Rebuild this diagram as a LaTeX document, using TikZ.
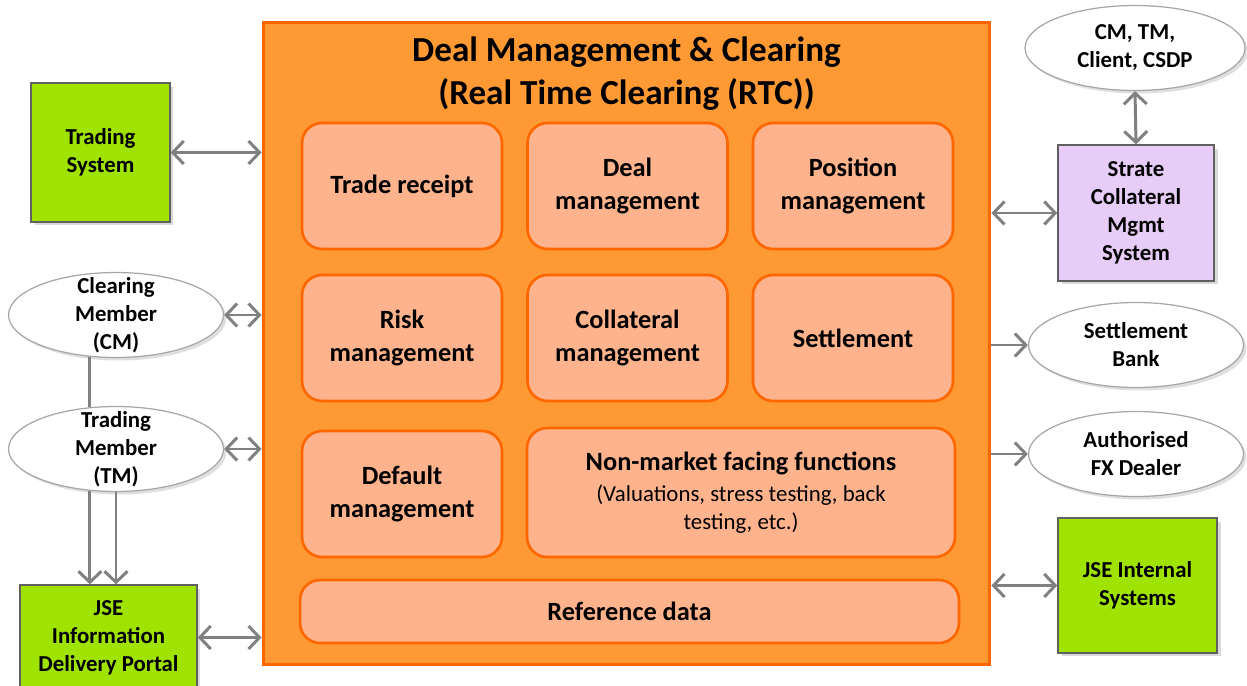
\documentclass[tikz,border=0pt]{standalone}
\usepackage{fontspec}
\setmainfont{Carlito}
\usepackage{xcolor}
\usepackage{tikz}
\usetikzlibrary{shapes.geometric,arrows.meta,shadows,positioning}
\definecolor{rtcfill}{RGB}{255,153,51}
\definecolor{rtcline}{RGB}{255,102,0}
\definecolor{funcfill}{RGB}{255,179,140}
\definecolor{jsegreen}{RGB}{160,226,0}
\definecolor{lilac}{RGB}{230,204,246}
\definecolor{linkgray}{RGB}{128,128,128}
\newcommand{\finetext}{\mdseries\fontsize{13}{16}\selectfont}

\begin{document}
\begin{tikzpicture}[x=0.02cm,y=-0.02cm,font=\bfseries\fontsize{13}{16}\selectfont,
	rtcbox/.style={rectangle,draw=rtcline,fill=rtcfill,line width=1.7pt},
	funcbox/.style={rectangle,rounded corners=0.4cm,draw=rtcline,fill=funcfill,line width=1.5pt,align=center,minimum width=4cm,minimum height=2.52cm,font=\bfseries\fontsize{15}{18.8}\selectfont},
	greenbox/.style={rectangle,draw=gray!75!black,fill=jsegreen,line width=0.8pt,align=center,inner sep=0pt,drop shadow={opacity=0.3,shadow xshift=0.7mm,shadow yshift=-0.7mm}},
	lilacbox/.style={greenbox,fill=lilac},
	party/.style={ellipse,draw=gray!70,fill=white,line width=0.7pt,inner sep=0pt,minimum width=4.3cm,minimum height=1.7cm,drop shadow={opacity=0.25,shadow xshift=0.6mm,shadow yshift=-0.6mm}},
	link/.style={draw=linkgray,line width=1.7pt,{Straight Barb[length=2.2mm,width=4.6mm]}-{Straight Barb[length=2.2mm,width=4.6mm]}},
	feed/.style={draw=linkgray,line width=1.7pt,-{Straight Barb[length=2.2mm,width=4.6mm]}}]
	\useasboundingbox (0,0) rectangle (1247,686);
	\node[rtcbox,minimum width=14.54cm,minimum height=12.86cm] (rtc) at (626.5,343.5) {};
	\node[align=center,font=\bfseries\fontsize{20}{24.5}\selectfont] (title) at (626.5,74) {Deal Management \& Clearing\\(Real Time Clearing (RTC))};
	\node[funcbox] (receipt) at (402,186) {Trade receipt};
	\node[funcbox] (deal) at (627.5,186) {Deal\\management};
	\node[funcbox] (position) at (853,186) {Position\\management};
	\node[funcbox] (risk) at (402,338) {Risk\\management};
	\node[funcbox] (collateral) at (627.5,338) {Collateral\\management};
	\node[funcbox] (settle) at (853,338) {Settlement};
	\node[funcbox] (default) at (402,494) {Default\\management};
	\node[funcbox,minimum width=8.56cm,minimum height=2.58cm] (nonmarket) at (741,492.5) {Non-market facing functions\\[-1pt]{\finetext(Valuations, stress testing, back}\\[-3pt]{\finetext testing, etc.)}};
	\node[funcbox,minimum width=13.18cm,minimum height=1.26cm] (refdata) at (629.5,611.5) {Reference data};
	\node[greenbox,minimum width=2.78cm,minimum height=2.78cm] (tradesys) at (100.5,152.5) {Trading\\System};
	\node[party,label={[align=center]center:Clearing\\Member\\(CM)}] (cm) at (116,315) {};
	\node[party,label={[align=center]center:Trading\\Member\\(TM)}] (tm) at (116,449) {};
	\node[greenbox,minimum width=3.54cm,minimum height=2.1cm] (portal) at (108.5,637.5) {JSE\\Information\\Delivery Portal};
	\node[party,minimum width=4.4cm,label={[align=center]center:CM, TM,\\Client, CSDP}] (members) at (1135,48) {};
	\node[lilacbox,minimum width=3.12cm,minimum height=2.72cm] (strate) at (1136,213) {Strate\\Collateral\\Mgmt\\System};
	\node[party,label={[align=center]center:Settlement\\Bank}] (bank) at (1136,345) {};
	\node[party,label={[align=center]center:Authorised\\FX Dealer}] (fx) at (1136,454) {};
	\node[greenbox,minimum width=3.18cm,minimum height=2.7cm] (internal) at (1137.5,585.5) {JSE Internal\\Systems};
	\draw[link] (tradesys.east) -- (tradesys.east -| rtc.west);
	\draw[link] (cm.east) -- (cm.east -| rtc.west);
	\draw[link] (tm.east) -- (tm.east -| rtc.west);
	\draw[link] (portal.east) -- (portal.east -| rtc.west);
	\draw[draw=linkgray,line width=1.7pt] (cm.-122) -- (tm.122);
	\draw[feed] (tm.-122) -- (tm.-122 |- portal.north);
	\draw[feed] (tm.south) -- (tm.south |- portal.north);
	\draw[link] (members.south) -- (strate.north);
	\draw[link] (strate.west) -- (strate.west -| rtc.east);
	\draw[feed] (rtc.east |- bank.west) -- (bank.west);
	\draw[feed] (rtc.east |- fx.west) -- (fx.west);
	\draw[link] (internal.west) -- (internal.west -| rtc.east);
\end{tikzpicture}
\end{document}
